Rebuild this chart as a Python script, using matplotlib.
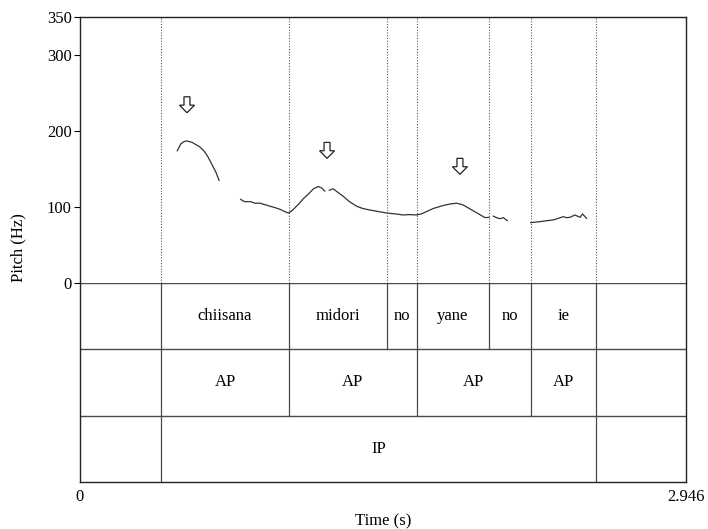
import matplotlib.pyplot as plt
from matplotlib.patches import FancyArrow

plt.rcParams['font.family'] = ['Liberation Serif', 'DejaVu Serif']
plt.rcParams['font.size'] = 12

# --- Daten: F0-Kontur (Zeit in s, Tonhöhe in Hz), stimmlose Lücken = eigene Segmente ---
seg1_t = [0.473, 0.490, 0.505, 0.519, 0.545, 0.583, 0.605, 0.622, 0.647, 0.662, 0.676]
seg1_f = [174, 183, 186, 187, 185, 179, 173, 166, 153, 145, 135]

seg2_t = [0.781, 0.800, 0.830, 0.850, 0.875, 0.900, 0.924, 0.950, 0.972, 0.995, 1.013,
          1.030, 1.060, 1.086, 1.110, 1.135, 1.159, 1.175, 1.190]
seg2_f = [110, 107, 107, 105, 105, 103, 101, 99, 97, 94, 92,
          95, 103, 111, 117, 124, 127, 125, 121]

seg3_t = [1.212, 1.231, 1.255, 1.280, 1.310, 1.345, 1.375, 1.410, 1.450, 1.494, 1.530,
          1.572, 1.600, 1.637, 1.660, 1.685, 1.717, 1.766, 1.800, 1.831, 1.860, 1.880,
          1.905, 1.928, 1.950, 1.969, 1.988]
seg3_f = [122, 124, 119, 114, 107, 101, 98, 96, 94, 92, 91,
          89.5, 90, 89.5, 91, 94, 98, 102, 104, 105, 103, 100,
          96, 92.5, 89, 86, 86.4]

seg4_t = [2.009, 2.025, 2.042, 2.058, 2.077]
seg4_f = [88, 86, 84.6, 86, 82]

seg5_t = [2.191, 2.210, 2.236, 2.270, 2.301, 2.325, 2.349, 2.365, 2.382, 2.406, 2.431, 2.443, 2.463]
seg5_f = [79.4, 80, 80.7, 82, 83, 85, 87.3, 86, 86.4, 89.5, 86.4, 90.8, 85]

segmente = [(seg1_t, seg1_f), (seg2_t, seg2_f), (seg3_t, seg3_f),
            (seg4_t, seg4_f), (seg5_t, seg5_f)]

# Pfeile über den Akzentgipfeln (Zeit, Oberkante in Hz)
pfeil_t = [0.520, 1.201, 1.847]
pfeil_top = [245, 185, 164]

# TextGrid-Tiers: Grenzen und Beschriftungen
dauer = 2.946
wort_grenzen = [0.394, 1.016, 1.492, 1.638, 1.988, 2.192, 2.508]
wort_labels = ['chiisana', 'midori', 'no', 'yane', 'no', 'ie']
ap_grenzen = [0.394, 1.016, 1.638, 2.192, 2.508]
ap_labels = ['AP', 'AP', 'AP', 'AP']
ip_grenzen = [0.394, 2.508]
ip_labels = ['IP']

y_ticks = [0, 100, 200, 300, 350]

# ==============================================================================
fig = plt.figure(figsize=(7.08, 5.29), dpi=100)
L, R = 80 / 708, 686 / 708
ax = fig.add_axes([L, 1 - 283 / 529, R - L, (283 - 17) / 529])
axt = fig.add_axes([L, 1 - 482 / 529, R - L, (482 - 283) / 529])

linie = '#4a4a4a'

# Pitch-Bereich
for t, f in segmente:
    ax.plot(t, f, color='#333333', lw=0.9)

for g in wort_grenzen:
    ax.axvline(g, color='#555555', lw=0.8, ls=(0, (1, 1.5)))

for t, top in zip(pfeil_t, pfeil_top):
    ax.add_patch(FancyArrow(t, top, 0, -21, width=0.029, head_width=0.073,
                            head_length=10, length_includes_head=True,
                            facecolor='white', edgecolor='#222222', lw=0.9))

ax.set_xlim(0, dauer)
ax.set_ylim(0, 350)
ax.set_yticks(y_ticks)
ax.set_xticks([])
ax.tick_params(axis='y', length=4, width=0.8, pad=2)
for s in ['left', 'right', 'top']:
    ax.spines[s].set_color('#222222')
    ax.spines[s].set_linewidth(1.0)
ax.spines['bottom'].set_visible(False)

# Tiers
axt.set_xlim(0, dauer)
axt.set_ylim(0, 3)
axt.set_xticks([])
axt.set_yticks([])
for s in ['left', 'right', 'bottom']:
    axt.spines[s].set_color('#222222')
    axt.spines[s].set_linewidth(1.0)
axt.spines['top'].set_visible(False)

for y in [3, 2, 1]:
    axt.axhline(y, color=linie, lw=1.0)

tiers = [(wort_grenzen, wort_labels), (ap_grenzen, ap_labels), (ip_grenzen, ip_labels)]
for i, (grenzen, labels) in enumerate(tiers):
    y0, y1 = 2 - i, 3 - i
    for g in grenzen:
        axt.plot([g, g], [y0, y1], color=linie, lw=0.9)
    for a, b, lab in zip(grenzen[:-1], grenzen[1:], labels):
        axt.text((a + b) / 2, (y0 + y1) / 2, lab, ha='center', va='center')

# Achsenbeschriftung
axt.text(0, -0.22, '0', ha='center', va='center', transform=axt.transData)
axt.text(dauer, -0.22, '2.946', ha='center', va='center', transform=axt.transData)
fig.text((L + R) / 2, 1 - 521 / 529, 'Time (s)', ha='center', va='center')
fig.text(18 / 708, 1 - 248 / 529, 'Pitch (Hz)', ha='center', va='center', rotation=90)

plt.savefig('out.png', dpi=100)
